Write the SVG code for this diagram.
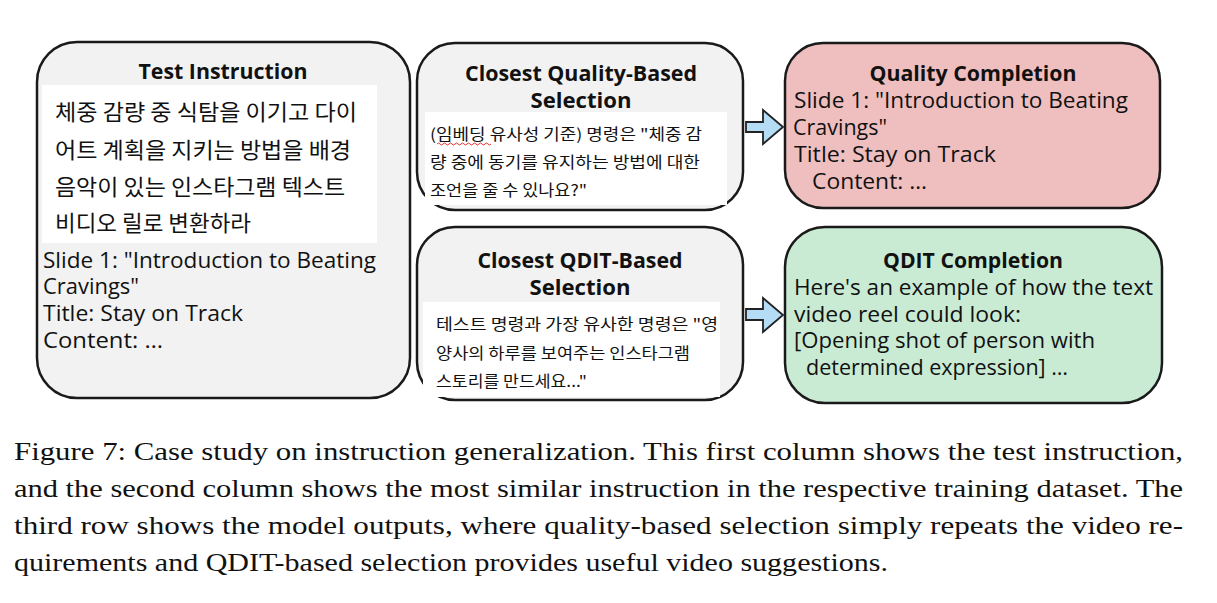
<svg xmlns="http://www.w3.org/2000/svg" width="1217" height="603" viewBox="0 0 1217 603">
<style>
.box{stroke:#1a1a1a;stroke-width:2.5}
.gray{fill:#f2f2f2}
.pink{fill:#efbfbf}
.green{fill:#c9ebd4}
.white{fill:#ffffff}
.ttl{font-family:"Open Sans","Noto Sans","DejaVu Sans",sans-serif;font-weight:bold;font-size:21.5px;fill:#111;text-anchor:middle}
.body{font-family:"Open Sans","Noto Sans","DejaVu Sans",sans-serif;font-size:21.5px;fill:#111}
.kr{font-family:"Noto Sans CJK KR","Noto Sans",sans-serif;font-size:22px;fill:#111}
.krs{font-family:"Noto Sans CJK KR","Noto Sans",sans-serif;font-size:15.5px;fill:#111}
.arrow{fill:#b5dcf5;stroke:#222;stroke-width:1.8;stroke-linejoin:miter}
.cap{font-family:"Liberation Serif","DejaVu Serif",serif;font-size:25.5px;fill:#111}
</style>
<g id="test-instruction">
<rect class="box gray" x="37" y="42" width="373" height="356" rx="40"/>
<text class="ttl" x="223" y="79" textLength="169" lengthAdjust="spacingAndGlyphs">Test Instruction</text>
<rect class="white" x="42" y="85" width="335" height="158"/>
<text class="kr" x="55" y="120" textLength="302" lengthAdjust="spacingAndGlyphs">체중 감량 중 식탐을 이기고 다이</text>
<text class="kr" x="55" y="158" textLength="296" lengthAdjust="spacingAndGlyphs">어트 계획을 지키는 방법을 배경</text>
<text class="kr" x="55" y="195" textLength="290" lengthAdjust="spacingAndGlyphs">음악이 있는 인스타그램 텍스트</text>
<text class="kr" x="55" y="231" textLength="196" lengthAdjust="spacingAndGlyphs">비디오 릴로 변환하라</text>
<text class="body" x="43" y="268" textLength="333" lengthAdjust="spacingAndGlyphs">Slide 1: "Introduction to Beating</text>
<text class="body" x="43" y="294" textLength="96" lengthAdjust="spacingAndGlyphs">Cravings"</text>
<text class="body" x="43" y="321" textLength="200" lengthAdjust="spacingAndGlyphs">Title: Stay on Track</text>
<text class="body" x="43" y="348" textLength="120" lengthAdjust="spacingAndGlyphs">Content: …</text>
</g>
<g id="quality-selection">
<rect class="box gray" x="417" y="43" width="326" height="167" rx="38"/>
<text class="ttl" x="581" y="81" textLength="232" lengthAdjust="spacingAndGlyphs">Closest Quality-Based</text>
<text class="ttl" x="581" y="108" textLength="101" lengthAdjust="spacingAndGlyphs">Selection</text>
<rect class="white" x="425" y="112" width="302" height="93"/>
<text class="krs" x="430" y="140" textLength="272" lengthAdjust="spacingAndGlyphs">(임베딩 유사성 기준) 명령은 "체중 감</text>
<path d="M437,144 q1.5,-2 3,0 t3,0 t3,0 t3,0 t3,0 t3,0 t3,0 t3,0 t3,0 t3,0 t3,0 t3,0 t3,0 t3,0 t3,0 t3,0 t3,0 t3,0" fill="none" stroke="#e03030" stroke-width="1"/>
<text class="krs" x="430" y="168" textLength="270" lengthAdjust="spacingAndGlyphs">량 중에 동기를 유지하는 방법에 대한</text>
<text class="krs" x="430" y="196" textLength="157" lengthAdjust="spacingAndGlyphs">조언을 줄 수 있나요?"</text>
</g>
<g id="qdit-selection">
<rect class="box gray" x="417" y="227" width="326" height="173" rx="38"/>
<text class="ttl" x="580" y="268" textLength="205" lengthAdjust="spacingAndGlyphs">Closest QDIT-Based</text>
<text class="ttl" x="580" y="295" textLength="101" lengthAdjust="spacingAndGlyphs">Selection</text>
<rect class="white" x="423" y="302" width="297" height="95"/>
<text class="krs" x="436" y="330" textLength="282" lengthAdjust="spacingAndGlyphs">테스트 명령과 가장 유사한 명령은 "영</text>
<text class="krs" x="436" y="359" textLength="254" lengthAdjust="spacingAndGlyphs">양사의 하루를 보여주는 인스타그램</text>
<text class="krs" x="436" y="387" textLength="151" lengthAdjust="spacingAndGlyphs">스토리를 만드세요..."</text>
</g>
<g id="quality-completion">
<rect class="box pink" x="785" y="43" width="375" height="165" rx="38"/>
<text class="ttl" x="973" y="81" textLength="207" lengthAdjust="spacingAndGlyphs">Quality Completion</text>
<text class="body" x="794" y="108" textLength="334" lengthAdjust="spacingAndGlyphs">Slide 1: "Introduction to Beating</text>
<text class="body" x="793" y="135" textLength="94" lengthAdjust="spacingAndGlyphs">Cravings"</text>
<text class="body" x="794" y="162" textLength="202" lengthAdjust="spacingAndGlyphs">Title: Stay on Track</text>
<text class="body" x="812" y="189" textLength="115" lengthAdjust="spacingAndGlyphs">Content: …</text>
</g>
<g id="qdit-completion">
<rect class="box green" x="785" y="227" width="377" height="176" rx="40"/>
<text class="ttl" x="973" y="268" textLength="180" lengthAdjust="spacingAndGlyphs">QDIT Completion</text>
<text class="body" x="794" y="295" textLength="359" lengthAdjust="spacingAndGlyphs">Here's an example of how the text</text>
<text class="body" x="794" y="322" textLength="227" lengthAdjust="spacingAndGlyphs">video reel could look:</text>
<text class="body" x="794" y="348" textLength="301" lengthAdjust="spacingAndGlyphs">[Opening shot of person with</text>
<text class="body" x="806" y="375" textLength="262" lengthAdjust="spacingAndGlyphs">determined expression] …</text>
</g>
<g id="connectors">
<path class="arrow" d="M746,122 L763,122 L763,110 L783,127 L763,144 L763,132 L746,132 Z"/>
<path class="arrow" d="M746,309 L763,309 L763,298 L783,315 L763,332 L763,320 L746,320 Z"/>
</g>
<g id="caption">
<text class="cap" x="14" y="460" textLength="1169" lengthAdjust="spacingAndGlyphs">Figure 7: Case study on instruction generalization.  This first column shows the test instruction,</text>
<text class="cap" x="14" y="497" textLength="1169" lengthAdjust="spacingAndGlyphs">and the second column shows the most similar instruction in the respective training dataset. The</text>
<text class="cap" x="14" y="534" textLength="1169" lengthAdjust="spacingAndGlyphs">third row shows the model outputs, where quality-based selection simply repeats the video re-</text>
<text class="cap" x="14" y="571" textLength="874" lengthAdjust="spacingAndGlyphs">quirements and QDIT-based selection provides useful video suggestions.</text>
</g>
</svg>
